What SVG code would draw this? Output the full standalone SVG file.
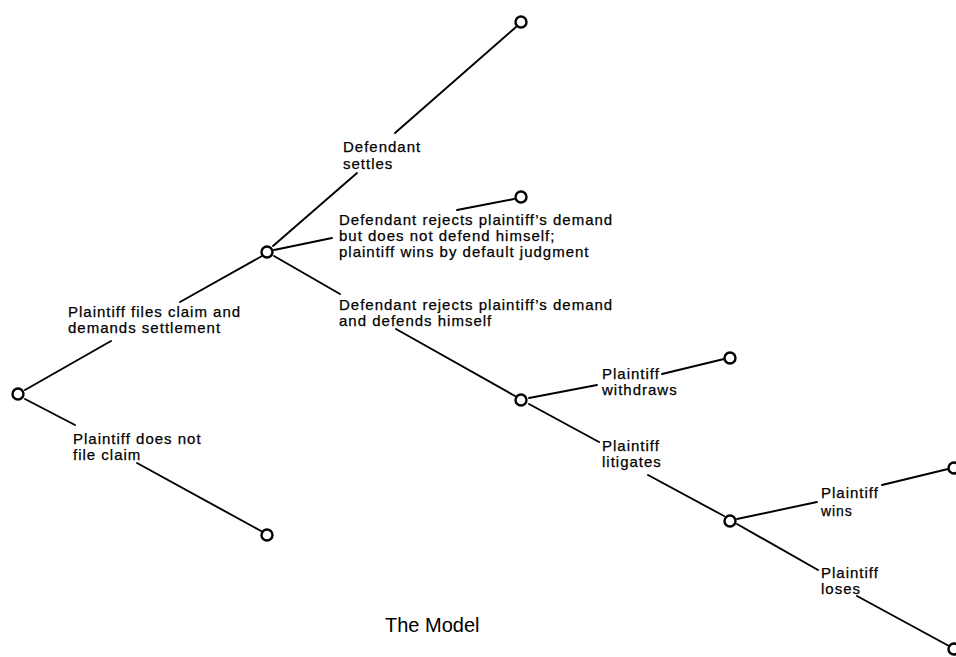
<svg xmlns="http://www.w3.org/2000/svg" width="956" height="657" viewBox="0 0 956 657">
<style>
.e{stroke:#000;stroke-width:1.9;fill:none;stroke-linecap:round}
.n{fill:#fff;stroke:#000;stroke-width:2.4}
.t{font-family:"Liberation Sans",Arial,sans-serif;font-size:15px;letter-spacing:1px;fill:#000;stroke:#000;stroke-width:0.25}
.s{font-size:14px;letter-spacing:0.9px}
.cap{font-family:"Liberation Sans",Arial,sans-serif;font-size:20px;fill:#000}
</style>
<rect width="956" height="657" fill="#fff"/>
<g id="connectors">
<path class="e" d="M25,390 L111,341 M180,302 L262,256"/>
<path class="e" d="M25,399 L75,425 M137,463 L261,531"/>
<path class="e" d="M273,246 L357,173 M395,133 L516,27"/>
<path class="e" d="M274,250 L332,238 M457,210 L514,199"/>
<path class="e" d="M274,256 L340,294 M396,329 L515,396"/>
<path class="e" d="M529,398 L597,385 M662,374 L724,359"/>
<path class="e" d="M529,404 L599,442 M648,475 L724,516"/>
<path class="e" d="M737,519 L817,502 M882,485 L948,469"/>
<path class="e" d="M737,524 L818,570 M857,596 L949,646"/>
</g>
<g id="labels">
<text class="t" x="68" y="317">Plaintiff files claim and</text>
<text class="t" x="68" y="333">demands settlement</text>
<text class="t" x="73" y="444">Plaintiff does not</text>
<text class="t" x="73" y="460">file claim</text>
<text class="t" x="343" y="152">Defendant</text>
<text class="t" x="343" y="169">settles</text>
<text class="t" x="339" y="225">Defendant rejects plaintiff’s demand</text>
<text class="t" x="339" y="241">but does not defend himself;</text>
<text class="t" x="339" y="257">plaintiff wins by default judgment</text>
<text class="t" x="339" y="310">Defendant rejects plaintiff’s demand</text>
<text class="t" x="339" y="326">and defends himself</text>
<text class="t" x="602" y="379">Plaintiff</text>
<text class="t" x="602" y="395">withdraws</text>
<text class="t" x="602" y="451">Plaintiff</text>
<text class="t" x="602" y="467">litigates</text>
<text class="t" x="821" y="498">Plaintiff</text>
<text class="t s" x="821" y="516">wins</text>
<text class="t" x="821" y="578">Plaintiff</text>
<text class="t" x="821" y="594">loses</text>
<text class="cap" x="385" y="632">The Model</text>
</g>
<g id="n-root"><circle class="n" cx="18" cy="394" r="5.5"/></g>
<g id="n-claim"><circle class="n" cx="267" cy="252" r="5.5"/></g>
<g id="n-noclaim"><circle class="n" cx="267" cy="535" r="5.5"/></g>
<g id="n-settles"><circle class="n" cx="521" cy="22" r="5.5"/></g>
<g id="n-default"><circle class="n" cx="521" cy="197" r="5.5"/></g>
<g id="n-defends"><circle class="n" cx="521" cy="400" r="5.5"/></g>
<g id="n-withdraws"><circle class="n" cx="730" cy="358" r="5.5"/></g>
<g id="n-litigates"><circle class="n" cx="730" cy="521" r="5.5"/></g>
<g id="n-wins"><circle class="n" cx="954" cy="468" r="5.5"/></g>
<g id="n-loses"><circle class="n" cx="954" cy="649" r="5.5"/></g>
</svg>
